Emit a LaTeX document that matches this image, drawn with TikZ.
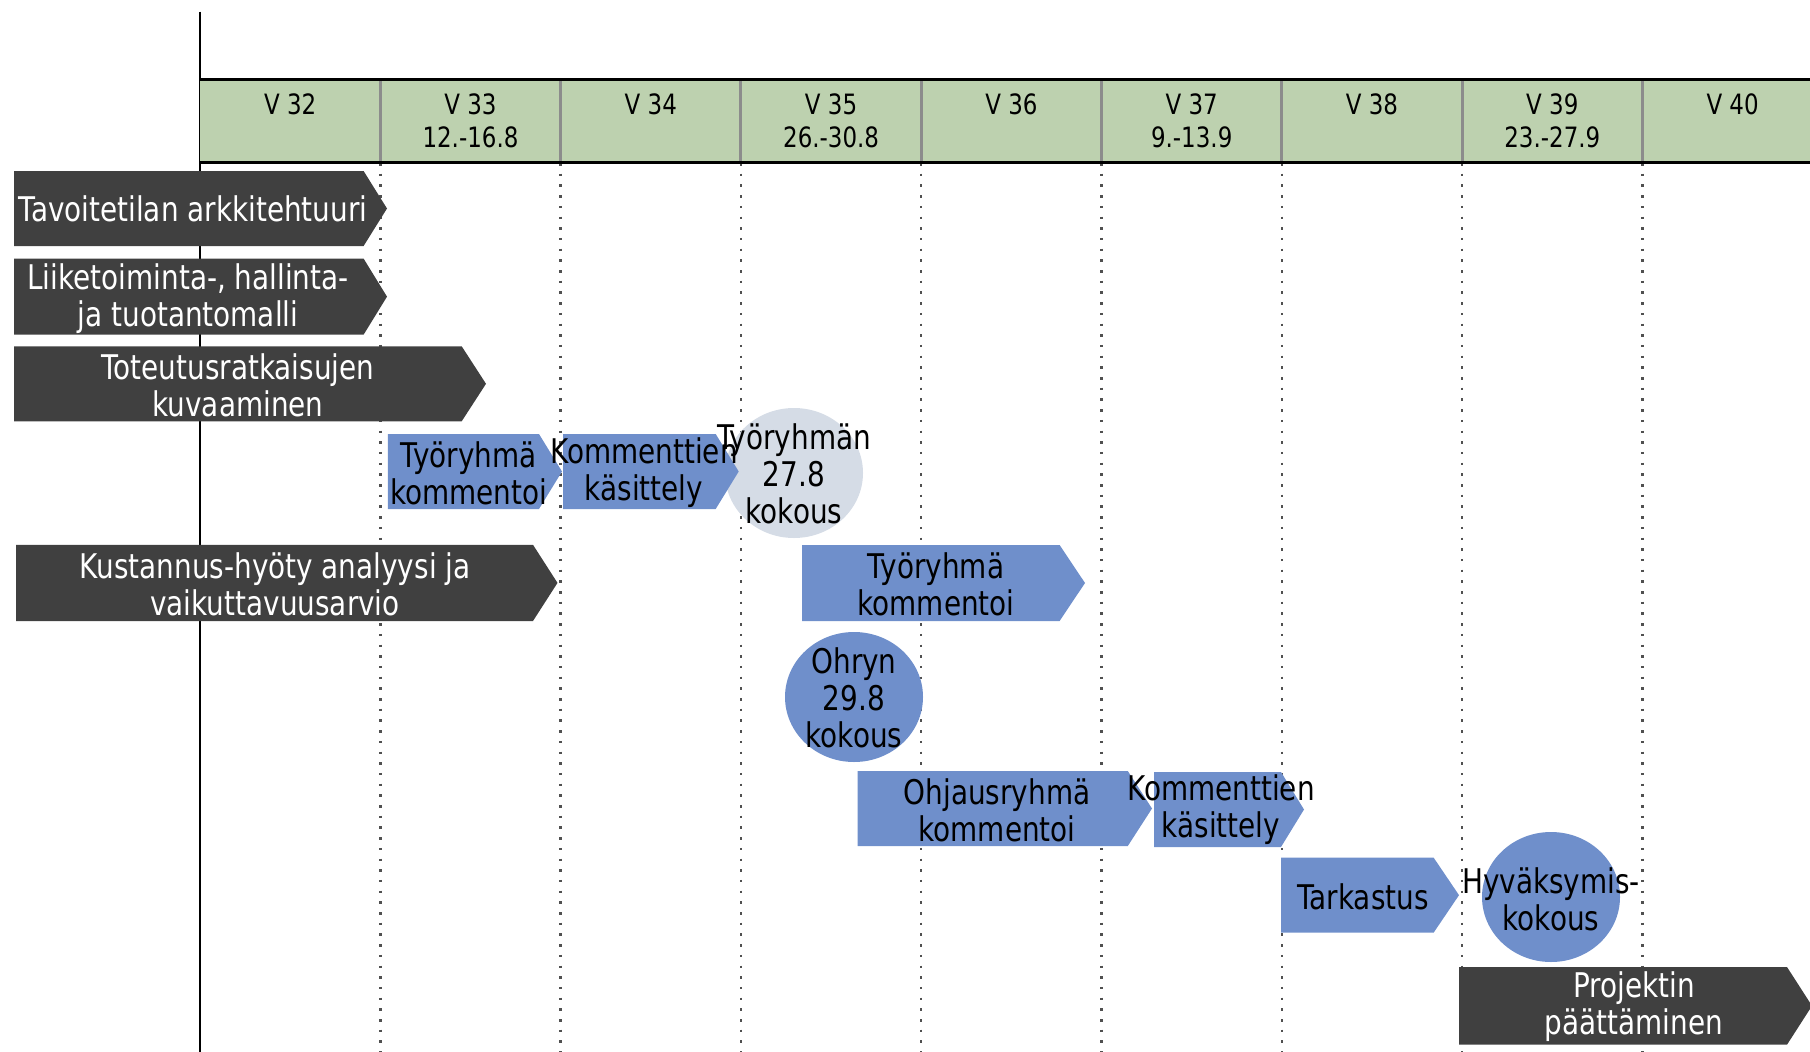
\documentclass[tikz,border=0pt]{standalone}
\usepackage{fontspec}
\setmainfont{DejaVu Sans}[FakeStretch=0.82]
\usetikzlibrary{shapes.geometric}
\definecolor{dk}{HTML}{404040}
\definecolor{bl}{HTML}{6F8FCB}
\definecolor{lb}{HTML}{D5DCE6}
\definecolor{gr}{HTML}{BDD1AF}
\definecolor{sepc}{HTML}{8C8C8C}
\definecolor{dotc}{HTML}{505050}
\tikzset{
  dotline/.style={line width=2.5pt, dash pattern=on 2.5pt off 8.2pt, dotc},
  axisline/.style={line width=2.5pt, black},
  sepline/.style={line width=3pt, sepc},
  rule/.style={line width=3pt, black},
  darkarr/.style={fill=dk},
  bluearr/.style={fill=bl},
  hdr/.style={align=center, inner sep=0pt, font=\fontsize{28}{32.4}\selectfont},
  wtxt/.style={align=center, inner sep=0pt, text=white, font=\fontsize{34}{37}\selectfont},
  btxt/.style={align=center, inner sep=0pt, text=black, font=\fontsize{34}{37}\selectfont},
  meet/.style={ellipse, inner sep=0pt, minimum width=138pt, minimum height=130pt}
}
\newcommand\chev[6]{% style, x1, bodyend, tip, ytop, ybot
  \fill[#1] (#2,#5) -- (#3,#5) -- (#4,{(#5+#6)/2}) -- (#3,#6) -- (#2,#6) -- cycle;}
\begin{document}
\begin{tikzpicture}[x=1pt,y=-1pt]
\useasboundingbox (0,0) rectangle (1810,1052);
% grid
\foreach \i in {1,...,8} \draw[dotline] ({200+180.3*\i},163) -- ({200+180.3*\i},1052);
\draw[axisline] (200,11.5) -- (200,1052);
\fill[gr] (200,79) rectangle (1810,162);
\foreach \i in {1,...,8} \draw[sepline] ({200+180.3*\i},79) -- ({200+180.3*\i},162);
\draw[rule] (200,79) -- (1810,79);
\draw[rule] (200,162) -- (1810,162);
% header texts
\node[hdr] (h32) at (290.2,121) {V 32\\\phantom{0}};
\node[hdr] (h33) at (470.5,121) {V 33\\12.-16.8};
\node[hdr] (h34) at (650.8,121) {V 34\\\phantom{0}};
\node[hdr] (h35) at (831.1,121) {V 35\\26.-30.8};
\node[hdr] (h36) at (1011.4,121) {V 36\\\phantom{0}};
\node[hdr] (h37) at (1191.7,121) {V 37\\9.-13.9};
\node[hdr] (h38) at (1372.0,121) {V 38\\\phantom{0}};
\node[hdr] (h39) at (1552.3,121) {V 39\\23.-27.9};
\node[hdr] (h40) at (1732.6,121) {V 40\\\phantom{0}};
% dark arrows
\chev{darkarr}{14}{363.6}{387}{171}{246}
\node[wtxt] (tav) at (193,209) {Tavoitetilan arkkitehtuuri};
\chev{darkarr}{14}{363.6}{387}{258.6}{334.7}
\node[wtxt] (liik) at (188,299) {Liiketoiminta-, hallinta-\\ja tuotantomalli};
\chev{darkarr}{14}{461.7}{486}{346.3}{421.3}
\node[wtxt] (tot) at (238,385) {Toteutusratkaisujen\\kuvaaminen};
\chev{darkarr}{16}{533}{557.5}{544.8}{621}
\node[wtxt] (kust) at (275,584) {Kustannus-hyöty analyysi ja\\vaikuttavuusarvio};
\chev{darkarr}{1459}{1787}{1812}{967}{1044.7}
\node[wtxt] (proj) at (1634,1007) {Projektin\\päättäminen};
% meetings
\node[meet, fill=lb] (trk) at (794,473) {};
\node[meet, fill=bl] (ohr) at (854,697) {};
\node[meet, fill=bl] (hyv) at (1551,897) {};
% blue arrows
\chev{bluearr}{387.8}{539}{562}{434}{509}
\node[btxt] (trkom1) at (468.6,473) {Työryhmä\\kommentoi};
\chev{bluearr}{563}{715.7}{738.7}{434}{509}
\node[btxt] (komk1) at (644,473) {Kommenttien\\käsittely};
\node[btxt] (trkt) at (794,474) {Työryhmän\\27.8\\kokous};
\chev{bluearr}{802}{1059.6}{1085}{545}{621}
\node[btxt] (trkom2) at (936,584) {Työryhmä\\kommentoi};
\node[btxt] (ohrt) at (854,698) {Ohryn\\29.8\\kokous};
\chev{bluearr}{857.6}{1127.8}{1152}{771}{846}
\node[btxt] (ohj) at (997,810) {Ohjausryhmä\\kommentoi};
\chev{bluearr}{1154}{1281}{1304}{772}{847}
\node[btxt] (komk2) at (1221,810) {Kommenttien\\käsittely};
\chev{bluearr}{1281}{1433.6}{1459}{857.6}{932.7}
\node[btxt] (tark) at (1363,897) {Tarkastus};
\node[btxt] (hyvt) at (1551,899) {Hyväksymis-\\kokous};
\end{tikzpicture}
\end{document}
